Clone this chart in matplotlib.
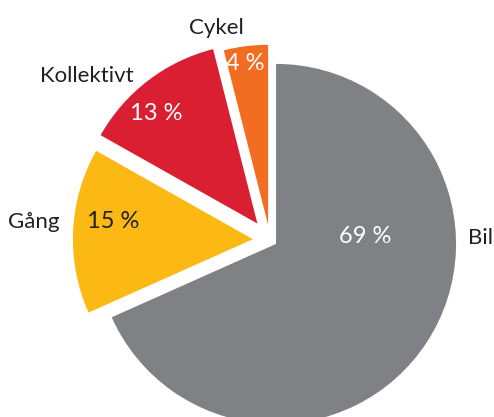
import matplotlib
matplotlib.use("Agg")
import matplotlib.pyplot as plt

# Data
categories = ["Bil", "Gång", "Kollektivt", "Cykel"]
shares = [69, 15, 13, 4]
colors = ["#808184", "#FCB913", "#DA1F33", "#F26C22"]
explode = [0.04, 0.095, 0.115, 0.085]

# label placement (data units, pie radius = 1)
name_pos = {"Bil": (1.17, 0.01), "Gång": (-1.31, 0.10),
            "Kollektivt": (-1.02, 0.91), "Cykel": (-0.30, 1.18)}
pct_pos = {"Bil": (0.53, 0.02), "Gång": (-0.87, 0.10),
           "Kollektivt": (-0.63, 0.70), "Cykel": (-0.135, 0.98)}
pct_color = {"Bil": "white", "Gång": "#231F20",
             "Kollektivt": "white", "Cykel": "white"}

plt.rcParams["font.family"] = ["Lato", "DejaVu Sans"]

fig = plt.figure(figsize=(4.94, 4.17), dpi=100)
ax = fig.add_axes([0, 0, 1, 1])

ax.pie(shares, explode=explode, colors=colors, startangle=90,
       counterclock=False, radius=1.0, wedgeprops={"linewidth": 0})

for cat, val in zip(categories, shares):
    x, y = name_pos[cat]
    ax.text(x, y, cat, ha="center", va="center", fontsize=16, color="#231F20")
    x, y = pct_pos[cat]
    ax.text(x, y, f"{val} %", ha="center", va="center", fontsize=17,
            color=pct_color[cat])

# 1 data unit = 180 px
ax.set_aspect("auto")
ax.set_xlim(-1.5, 494 / 180 - 1.5)
ax.set_ylim(-(417 - 240) / 180, 240 / 180)
ax.axis("off")

fig.savefig("out.png", dpi=100)
